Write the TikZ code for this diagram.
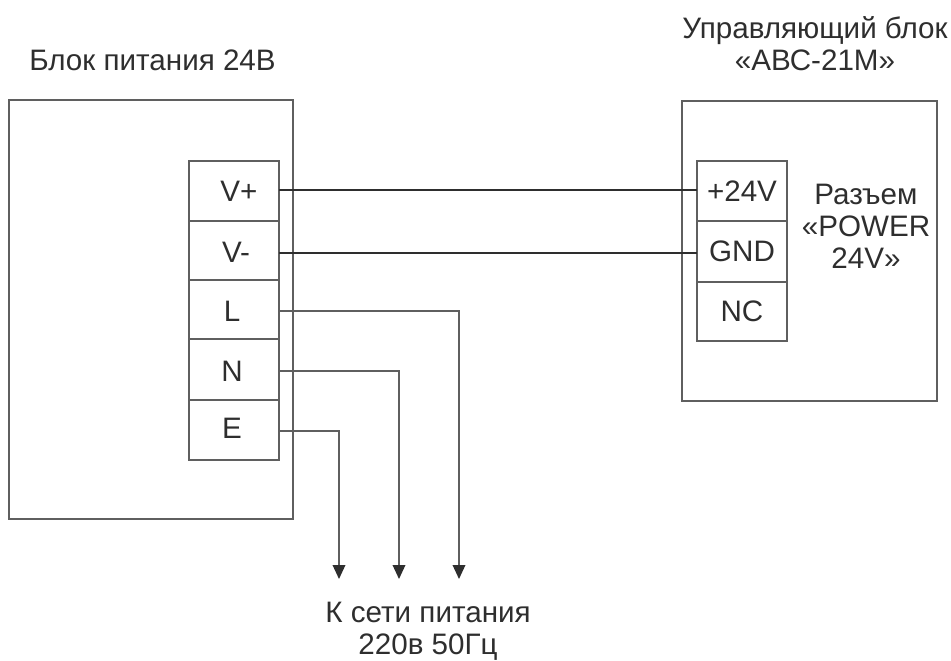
\documentclass[tikz,border=0pt]{standalone}
\usepackage{fontspec}
\setmainfont{Liberation Sans}
\usepackage{tikz}
\usetikzlibrary{arrows.meta, positioning}
\definecolor{inkgray}{HTML}{2E2E2E}
\definecolor{linegray}{HTML}{5F5F5F}

\begin{document}
\begin{tikzpicture}[x=0.75pt, y=-0.75pt, node distance=0pt,
    every node/.style={text=inkgray, font=\fontsize{22.2}{24}\selectfont},
    block/.style={draw=linegray, line width=0.9pt, outer sep=0pt, inner sep=0pt},
    termcell/.style={block, minimum width=67.5pt, minimum height=#1*0.75pt},
    lowtext/.style={text height=18.3pt, text depth=0pt},
    hightext/.style={text height=15.3pt, text depth=3pt},
    caption/.style={align=center},
    wire/.style={draw=inkgray, line width=1.7pt},
    mains/.style={draw=linegray, line width=1pt},
    mainsend/.style={mains, -{Triangle[length=10.5pt, width=9.5pt, color=inkgray]}}]
    \useasboundingbox (0,0) rectangle (951,661);

    \node[block, minimum width=213pt, minimum height=314.25pt, anchor=north west] (psu) at (9,100) {};
    \node[block, minimum width=191.25pt, minimum height=225pt, anchor=north west] (ctrl) at (682,101) {};

    \node[termcell=60, anchor=north west] (vp) at (189,161) {\hspace*{7.5pt}V+};
    \node[termcell=59, lowtext] (vm) [below=of vp] {\hspace*{3pt}V-};
    \node[termcell=59, lowtext] (ll) [below=of vm] {\hspace*{-3pt}L};
    \node[termcell=61, lowtext] (nn) [below=of ll] {\hspace*{-3pt}N};
    \node[termcell=60, hightext] (ee) [below=of nn] {\hspace*{-3pt}E};

    \node[termcell=60, anchor=north west] (pos) at (697,161) {+24V};
    \node[termcell=61] (gnd) [below=of pos] {GND};
    \node[termcell=59] (nc) [below=of gnd] {NC};

    \node[caption] (psutitle) at (152.5,60) {Блок питания 24В};
    \node[caption] (ctrltitle) at (815,44) {Управляющий блок\\«АВС-21М»};
    \node[caption] (conntitle) at (866,226) {Разъем\\«POWER\\24V»};
    \node[caption] (mainstitle) at (428,631) {К сети питания\\220в 50Гц};

    \coordinate (eend) at (339,579);
    \coordinate (nend) at (399,579);
    \coordinate (lend) at (459,579);

    \draw[wire] (vp.east) ++(0,-1) -- ([yshift=0.75pt]pos.west);
    \draw[wire] (vm.east) ++(0,2.5) -- ([yshift=-1.125pt]gnd.west);
    \draw[mainsend] (ll.east) ++(0,1.5) -| (lend);
    \draw[mainsend] (nn.east) ++(0,1.5) -| (nend);
    \draw[mainsend] (ee.east) ++(0,1) -| (eend);
\end{tikzpicture}
\end{document}
